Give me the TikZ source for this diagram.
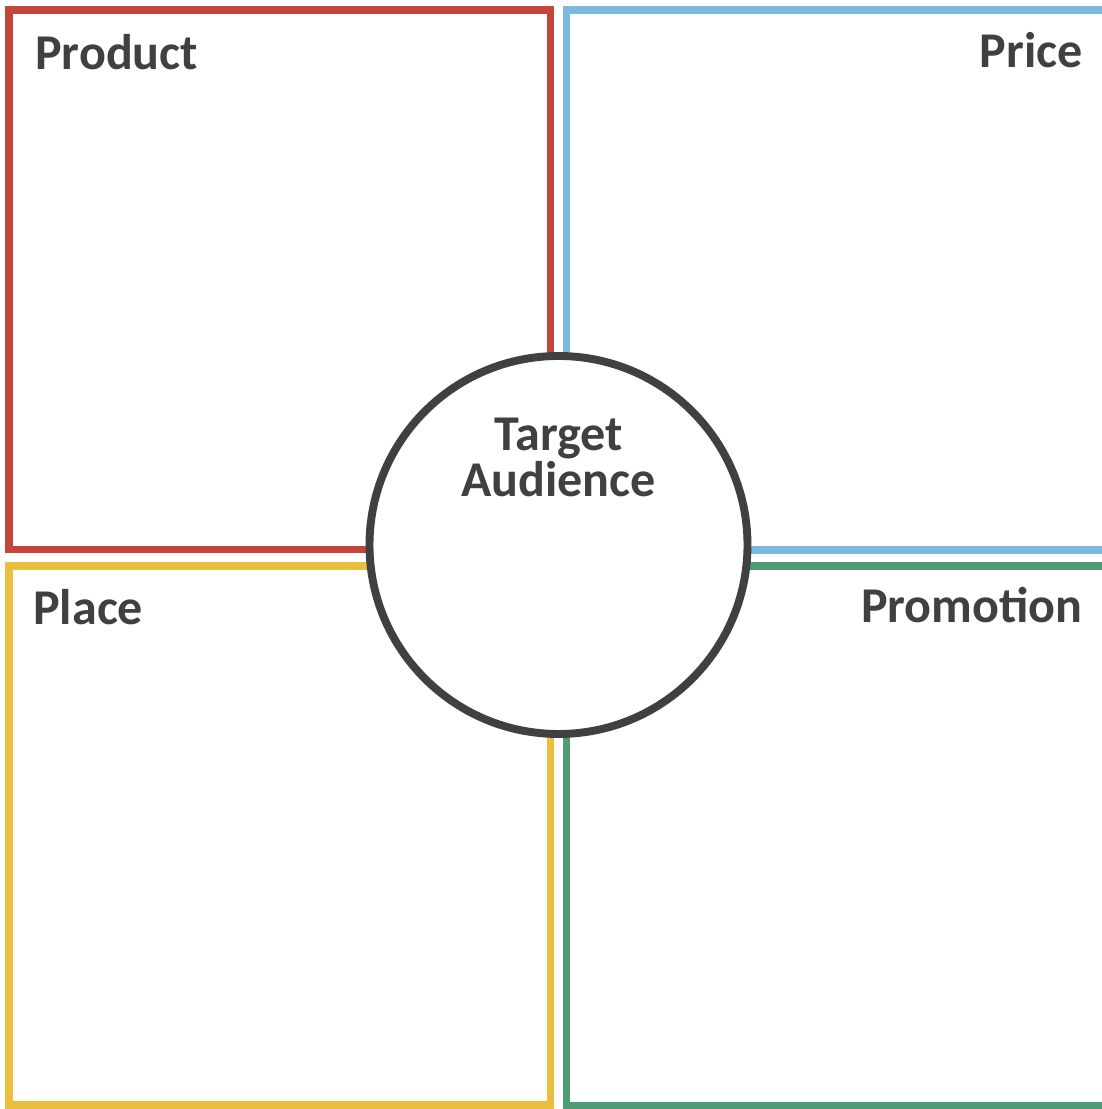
\documentclass[tikz,border=0pt]{standalone}
\usepackage{fontspec}
\setmainfont{Carlito}
\definecolor{prodred}{HTML}{C4463A}
\definecolor{priceblue}{HTML}{7DB9DF}
\definecolor{placeyellow}{HTML}{EABF3E}
\definecolor{promogreen}{HTML}{4F9B76}
\definecolor{darkgray}{HTML}{404040}

\begin{document}
\begin{tikzpicture}[x=0.02cm,y=0.02cm,
    quad/.style={draw=#1,line width=4pt},
    lbl/.style={text=darkgray,font=\fontsize{28.5}{30}\selectfont\bfseries,inner sep=0pt}]
	\useasboundingbox (0,0) rectangle (1102,1109);
	\clip (0,0) rectangle (1102,1109);

	% the four quarters
	\draw[quad=prodred] (9,1099) rectangle (550.5,559.5);
	\draw[quad=priceblue] (566.5,1099) rectangle (1130,559);
	\draw[quad=placeyellow] (9,543) rectangle (550.5,4);
	\draw[quad=promogreen] (566.5,543) rectangle (1130,3);

	\node[lbl,anchor=base west] (product) at (35,1039) {Product};
	\node[lbl,anchor=base east] (price) at (1083,1041) {Price};
	\node[lbl,anchor=base west] (place) at (33,484) {Place};
	\node[lbl,anchor=base east] (promotion) at (1083,486) {Promotion};

	% centre
	\draw[draw=darkgray,fill=white,line width=4.5pt] (558.5,564) circle (189);
	\node[lbl,align=center,anchor=base,font=\fontsize{28.5}{26.6}\selectfont\bfseries] (target) at (558.5,612) {Target\\Audience};

\end{tikzpicture}
\end{document}
